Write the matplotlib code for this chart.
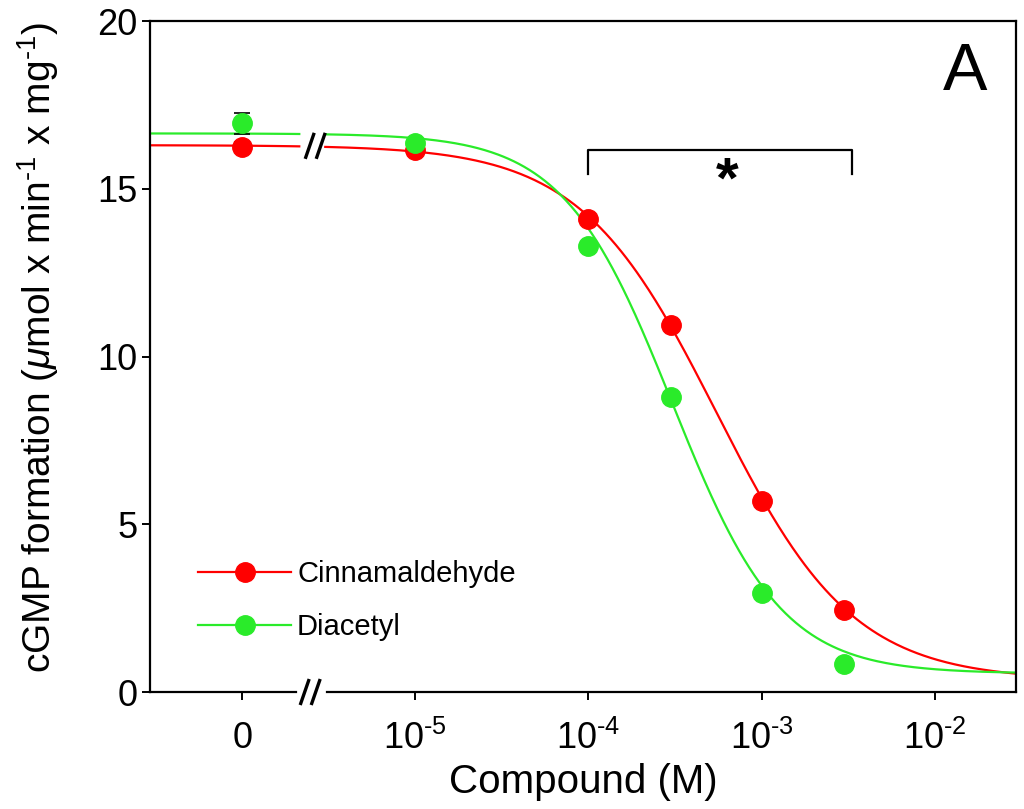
import matplotlib
matplotlib.use("Agg")
from matplotlib import pyplot as plt
import numpy as np

plt.rcParams["font.family"] = ["Liberation Sans", "DejaVu Sans"]
plt.rcParams["mathtext.fontset"] = "custom"
plt.rcParams["mathtext.rm"] = "Liberation Sans"
plt.rcParams["mathtext.it"] = "Liberation Sans:italic"

# concentrations (M); 0 is drawn on the broken part of the axis
conc = [0, 1e-5, 1e-4, 3e-4, 1e-3, 3e-3]
cinnam = [16.25, 16.15, 14.1, 10.95, 5.7, 2.45]
cinnam_err = [0.15, 0.1, 0.1, 0.1, 0.1, 0.1]
diacetyl = [16.95, 16.35, 13.3, 8.8, 2.95, 0.85]
diacetyl_err = [0.32, 0.1, 0.1, 0.1, 0.1, 0.1]

# fitted sigmoid parameters (top, bottom, logEC50, hill)
cinnam_fit = (16.3, 0.35, -3.26, 1.1)
diacetyl_fit = (16.65, 0.55, -3.515, 1.38)

tick_pos = [-6, -5, -4, -3, -2]
tick_labels = ["0", r"$10^{\text{-5}}$", r"$10^{\text{-4}}$", r"$10^{\text{-3}}$", r"$10^{\text{-2}}$"]
zero_pos = -6
brk = (-5.67, -5.52)


def to_x(c):
    return zero_pos if c == 0 else np.log10(c)


def hill(x, top, bottom, ec, h):
    return bottom + (top - bottom) / (1 + 10 ** ((x - ec) * h))


def slashes(ax, xc, yc):
    # two short parallel strokes, sized in pixels around (xc, yc)
    px = (ax.get_xlim()[1] - ax.get_xlim()[0]) / 866
    py = (ax.get_ylim()[1] - ax.get_ylim()[0]) / 671
    for off in (-5.5, 5.5):
        ax.plot([xc + (off - 4.5) * px, xc + (off + 4.5) * px],
                [yc - 13 * py, yc + 13 * py], color="black", lw=2.4,
                solid_capstyle="butt", clip_on=False, zorder=5)


red = "#ff0000"
green = "#2aeb2a"

fig = plt.figure(figsize=(10.24, 8.09), dpi=100)
ax = fig.add_axes([0.1465, 0.1446, 0.8455, 0.8294])
xlim = (-6.532, -1.532)
ax.set_xlim(*xlim)
ax.set_ylim(0, 20)

xs = [to_x(c) for c in conc]
for vals, err, fit, col, name in [(cinnam, cinnam_err, cinnam_fit, red, "Cinnamaldehyde"),
                                  (diacetyl, diacetyl_err, diacetyl_fit, green, "Diacetyl")]:
    xa = np.linspace(xlim[0], brk[0], 50)
    xb = np.linspace(brk[1], xlim[1], 400)
    ax.plot(xa, hill(xa, *fit), color=col, lw=1.6, zorder=2)
    ax.plot(xb, hill(xb, *fit), color=col, lw=1.6, zorder=2)
    ax.errorbar(xs, vals, yerr=err, fmt="none", ecolor="black", elinewidth=1.2,
                capsize=6, capthick=1.2, zorder=3)
    ax.plot(xs, vals, "o", color=col, ms=14, zorder=4)
    ax.plot([], [], "-o", color=col, ms=14, lw=1.6, label=name)

# break marks
ax.spines["bottom"].set_visible(False)
ax.plot([xlim[0], brk[0] - 0.02], [0, 0], color="black", lw=1.6, clip_on=False)
ax.plot([brk[1] + 0.01, xlim[1]], [0, 0], color="black", lw=1.6, clip_on=False)
slashes(ax, -5.578, 16.28)
slashes(ax, -5.607, 0)

for s in ["left", "top", "right"]:
    ax.spines[s].set_linewidth(1.6)

# significance bracket
ax.plot([-4, -4, -2.48, -2.48], [15.45, 16.15, 16.15, 15.45], color="black", lw=1.6)
ax.text(-3.2, 15.2, "*", fontsize=42, fontweight="bold", ha="center", va="center")

ax.text(0.967, 0.922, "A", transform=ax.transAxes, fontsize=48, ha="right", va="center")

ax.set_xticks(tick_pos)
ax.set_xticklabels(tick_labels)
ax.set_yticks([0, 5, 10, 15, 20])
ax.tick_params(direction="out", length=6, width=1.4, labelsize=26)
ax.tick_params(axis="y", pad=3)
ax.tick_params(axis="x", pad=15)

ax.set_xlabel("Compound (M)", fontsize=29, labelpad=4)
ax.set_ylabel(r"cGMP formation ($\mathit{\mu}$mol x min$^{\text{-1}}$ x mg$^{\text{-1}}$)",
              fontsize=28)
ax.yaxis.set_label_coords(-0.103, 0.513)

ax.legend(loc="lower left", bbox_to_anchor=(0.025, 0.037), frameon=False, fontsize=21,
          handlelength=3.2, labelspacing=0.85, handletextpad=0.2, numpoints=1)

fig.savefig("out.png", dpi=100)
